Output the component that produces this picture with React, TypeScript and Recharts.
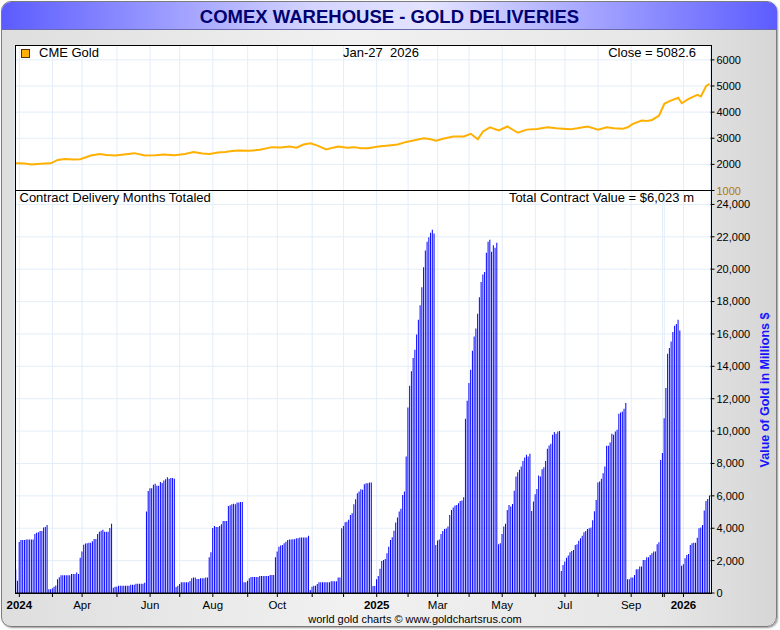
import React from "react"
import {
  Bar,
  BarChart,
  CartesianGrid,
  Line,
  LineChart,
  XAxis,
  YAxis,
} from "recharts"

// cumulative delivery value per contract month, $ millions, one value per bar
const lateDec2023 = [1450, 750]
const jan24 = [3150, 3280, 3280, 3280, 3300, 3300, 3300, 3300, 3300, 3650, 3720, 3750, 3830, 3830, 4040, 4080, 4200]
const feb24 = [230, 230, 300, 390, 470, 850, 980, 1090, 1090, 1090, 1090, 1090, 1090, 1175, 1175, 1180, 1270, 1180]
const apr24 = [2170, 2560, 2980, 3050, 3080, 3110, 3110, 3200, 3340, 3340, 3650, 3790, 3840, 3900, 3790, 3790, 3790, 4020, 4270]
const may24 = [330, 390, 390, 450, 450, 450, 450, 450, 450, 450, 510, 510, 510, 575, 575, 575, 575, 575, 640]
const jun24 = [5030, 6300, 6470, 6470, 6680, 6740, 6620, 6620, 6850, 6800, 6950, 7030, 7150, 7050, 7100, 7100, 7050]
const jul24 = [370, 450, 560, 660, 660, 660, 660, 660, 740, 910, 950, 950, 870, 870, 910, 910, 910, 950, 950]
const aug24 = [2210, 2520, 4020, 4140, 4080, 4080, 4140, 4250, 4450, 4450, 4450, 5380, 5420, 5480, 5520, 5480, 5590, 5590, 5620, 5620]
const sep24 = [660, 660, 760, 910, 990, 990, 990, 990, 990, 1050, 1050, 1050, 1050, 1050, 1050, 1110, 1110, 1110]
const oct24 = [2210, 2560, 2860, 2930, 2970, 3070, 3170, 3280, 3300, 3300, 3320, 3320, 3380, 3380, 3430, 3430, 3430, 3430, 3430, 3530]
const nov24 = [190, 390, 450, 450, 560, 660, 660, 660, 660, 660, 660, 660, 720, 720, 720, 720, 950, 950]
const dec24 = [4000, 4140, 4370, 4400, 4520, 4820, 4930, 5480, 5790, 6160, 6270, 6410, 6380, 6720, 6780, 6780, 6820, 6820]
const jan25 = [430, 430, 850, 1050, 1500, 1980, 2040, 2100, 2450, 2860, 3280, 3440, 3850, 4350, 4660, 5030, 5200, 6060, 6270]
const feb25 = [8430, 11460, 12800, 13690, 14510, 15030, 15960, 16880, 17770, 18880, 20120, 21150, 21690, 21980, 22250, 22430, 22200]
const mar25 = [2970, 3240, 3300, 3650, 3830, 3960, 3980, 4100, 4820, 5130, 5280, 5400, 5430, 5550, 5690, 5710, 5920]
const apr25 = [10760, 11870, 12970, 13790, 14970, 15850, 16330, 17240, 18260, 19210, 19670, 19830, 21010, 21690, 21820, 21070, 21480, 21320, 21630]
const may25 = [3010, 3070, 3650, 4100, 4270, 5130, 5440, 5340, 5500, 6310, 7190, 7460, 7610, 7810, 8160, 8370, 8540, 8430, 8600]
const jun25 = [5070, 5650, 6100, 6430, 7250, 7190, 7650, 7770, 8160, 8910, 9110, 9220, 9770, 9940, 9830, 9980, 10000]
const julAug25 = [1360, 1730, 1940, 2180, 2310, 2520, 2600, 2660, 2970, 3010, 3220, 3380, 3530, 3750, 3830, 3960, 4000, 4050, 4500, 5050, 5750, 6820, 6890, 7050, 7400, 7810, 9090, 9090, 9300, 9830, 9770, 9980, 10080, 11070, 11150, 11210, 11380, 11730]
const sep25 = [850, 850, 950, 950, 1110, 1460, 1460, 1630, 1630, 2040, 2040, 2210, 2210, 2350, 2450, 2560, 2560, 3010, 3130]
const dec25 = [8220, 8640, 10800, 12660, 14780, 15130, 15540, 16120, 16510, 16620, 16880, 16220]
const jan26 = [1690, 1770, 2140, 2350, 2410, 2970, 3070, 3110, 3110, 3420, 4000, 4040, 4200, 5090, 5690, 5810, 6023]

const deliveries = [
  lateDec2023, jan24, feb24, apr24, may24, jun24, jul24, aug24, sep24, oct24, nov24, dec24,
  jan25, feb25, mar25, apr25, may25, jun25, julAug25, sep25, dec25, jan26,
].flat()

// CME gold close, sampled on the same bar index
const goldIdx = [0, 5, 9, 14, 20, 24, 28, 33, 37, 43, 48, 52, 57, 62, 68, 74, 80, 85, 91, 97, 102, 107, 111, 116, 120, 124, 128, 134, 140, 147, 152, 157, 161, 165, 169, 173, 178, 182, 185, 190, 194, 198, 202, 208, 214, 219, 224, 228, 234, 238, 241, 245, 251, 257, 261, 265, 268, 272, 277, 282, 288, 293, 299, 305, 310, 314, 318, 322, 328, 334, 339, 343, 348, 351, 354, 359, 362, 365, 369, 372, 375, 380, 382, 386, 389, 391, 393, 396, 398]
const goldClose = [2045, 2030, 1995, 2020, 2040, 2170, 2210, 2190, 2200, 2340, 2400, 2360, 2340, 2380, 2430, 2340, 2350, 2380, 2350, 2400, 2470, 2420, 2400, 2450, 2470, 2510, 2530, 2520, 2560, 2660, 2650, 2680, 2640, 2760, 2810, 2720, 2570, 2640, 2680, 2640, 2660, 2620, 2620, 2680, 2720, 2760, 2860, 2910, 3000, 2960, 2910, 2980, 3070, 3070, 3170, 2960, 3260, 3420, 3300, 3450, 3210, 3330, 3350, 3420, 3380, 3360, 3340, 3380, 3450, 3330, 3420, 3380, 3360, 3420, 3550, 3680, 3660, 3700, 3870, 4320, 4420, 4550, 4340, 4510, 4600, 4660, 4600, 5000, 5082.6]

const xTickIdx = [2, 21, 38, 58, 77, 94, 113, 133, 150, 170, 188, 207, 225, 242, 260, 279, 298, 315, 334, 353, 371, 372, 383]
const xTickLabels = ["2024", "", "Apr", "", "Jun", "", "Aug", "", "Oct", "", "", "2025", "", "Mar", "", "May", "", "Jul", "", "Sep", "", "", "2026"]

const valueTicks = [0, 2000, 4000, 6000, 8000, 10000, 12000, 14000, 16000, 18000, 20000, 22000, 24000]
const priceTicks = [1000, 2000, 3000, 4000, 5000, 6000]

const font = "'Liberation Sans', Arial, sans-serif"
const gridColor = "#e3eef8"
const barRows = deliveries.map((value, i) => ({ i, value }))
const goldRows = goldIdx.map((i, k) => ({ i, close: goldClose[k] }))

function XTick({ x, y, payload }: any) {
  const label = xTickLabels[xTickIdx.indexOf(payload.value)] ?? ""
  return (
    <text
      x={x}
      y={y}
      dy={10}
      textAnchor="middle"
      fontSize={11.5}
      fontFamily={font}
      fontWeight={/^\d{4}$/.test(label) ? "bold" : "normal"}
      fill="#000"
    >
      {label}
    </text>
  )
}

function PriceTick({ x, y, payload }: any) {
  return (
    <text x={x} y={y} dy={4} fontSize={11} fontFamily={font} fill={payload.value === 1000 ? "#b07800" : "#000"}>
      {payload.value}
    </text>
  )
}

export default function App() {
  const abs = { position: "absolute" as const }
  return (
    <div style={{ ...abs, left: 0, top: 0, width: 780, height: 630, fontFamily: font }}>
      <div
        style={{
          ...abs,
          left: 1,
          top: 1,
          width: 774,
          height: 624,
          border: "1.5px solid #7c7c7c",
          borderRadius: 10,
          background: "linear-gradient(to right, #dedede, #f1f1f1 45%, #e6e6e6 85%, #d6d6d6)",
          boxShadow: "1px 1px 2px #999",
        }}
      />
      <div
        style={{
          ...abs,
          left: 2,
          top: 2,
          width: 775,
          height: 27,
          borderRadius: "9px 9px 0 0",
          borderBottom: "1px solid #6a6ab0",
          background: "linear-gradient(to right, #5c5cff, #d4d4ff 40%, #e4e4ff 55%, #5c5cff)",
          textAlign: "center",
          lineHeight: "29px",
          fontSize: 18.5,
          fontWeight: "bold",
          color: "#000070",
        }}
      >
        COMEX WAREHOUSE - GOLD DELIVERIES
      </div>

      <div style={{ ...abs, left: 0, top: 0 }}>
        <LineChart width={780} height={200} data={goldRows} margin={{ top: 45.5, right: 9.5, bottom: 9.5, left: 15 }}>
          <CartesianGrid fill="#fff" stroke={gridColor} strokeWidth={1} />
          <XAxis dataKey="i" type="number" domain={[-0.5, deliveries.length - 0.5]} ticks={xTickIdx} hide />
          <YAxis
            orientation="right"
            width={60}
            domain={[1000, 6550]}
            ticks={priceTicks}
            allowDataOverflow
            axisLine={false}
            tickLine={{ stroke: "#000" }}
            tickSize={4}
            tick={<PriceTick />}
          />
          <Line
            dataKey="close"
            type="linear"
            stroke="#ffb000"
            strokeWidth={2}
            dot={false}
            isAnimationActive={false}
          />
        </LineChart>
      </div>

      <div style={{ ...abs, left: 0, top: 0 }}>
        <BarChart
          width={780}
          height={630}
          data={barRows}
          margin={{ top: 190.5, right: 9.5, bottom: 7, left: 15 }}
          barCategoryGap="12%"
        >
          <CartesianGrid fill="#fff" stroke={gridColor} strokeWidth={1} />
          <XAxis
            dataKey="i"
            ticks={xTickIdx}
            interval={0}
            height={30}
            axisLine={{ stroke: "#000" }}
            tickLine={{ stroke: "#000" }}
            tickSize={4}
            tick={<XTick />}
          />
          <YAxis
            orientation="right"
            width={60}
            domain={[0, 24860]}
            ticks={valueTicks}
            allowDataOverflow
            axisLine={false}
            tickLine={{ stroke: "#000" }}
            tickSize={4}
            tickFormatter={(v: number) => v.toLocaleString("en-US")}
            tick={{ fontSize: 11, fill: "#000", fontFamily: font }}
          />
          <Bar dataKey="value" fill="#0000ff" isAnimationActive={false} />
        </BarChart>
      </div>

      {/* panel frames */}
      <div style={{ ...abs, left: 15, top: 45, width: 695, height: 547, border: "1px solid #000", pointerEvents: "none" }} />
      <div style={{ ...abs, left: 15, top: 190, width: 696, height: 1, background: "#000" }} />

      <div style={{ ...abs, left: 20.5, top: 49, width: 7, height: 7, background: "#ffb000", border: "1px solid #553300" }} />
      <div style={{ ...abs, left: 39, top: 45, fontSize: 13, lineHeight: "16px" }}>CME Gold</div>
      <div style={{ ...abs, left: 300, width: 162, top: 45, fontSize: 13, lineHeight: "16px", textAlign: "center", whiteSpace: "pre" }}>
        {"Jan-27  2026"}
      </div>
      <div style={{ ...abs, right: 780 - 696, top: 45, fontSize: 13, lineHeight: "16px" }}>Close = 5082.6</div>

      <div style={{ ...abs, left: 19.5, top: 190, fontSize: 13, lineHeight: "16px" }}>Contract Delivery Months Totaled</div>
      <div style={{ ...abs, right: 780 - 694, top: 190, fontSize: 13, lineHeight: "16px" }}>
        Total Contract Value = $6,023 m
      </div>

      <svg style={{ ...abs, left: 0, top: 0 }} width={780} height={630}>
        <text
          transform="translate(769 390) rotate(-90)"
          textAnchor="middle"
          fontSize={12.5}
          fontWeight="bold"
          fontFamily={font}
          fill="#1414ff"
        >
          Value of Gold in Millions $
        </text>
        <text x={415} y={623} textAnchor="middle" fontSize={11} fontFamily={font} fill="#000">
          world gold charts © www.goldchartsrus.com
        </text>
      </svg>
    </div>
  )
}
